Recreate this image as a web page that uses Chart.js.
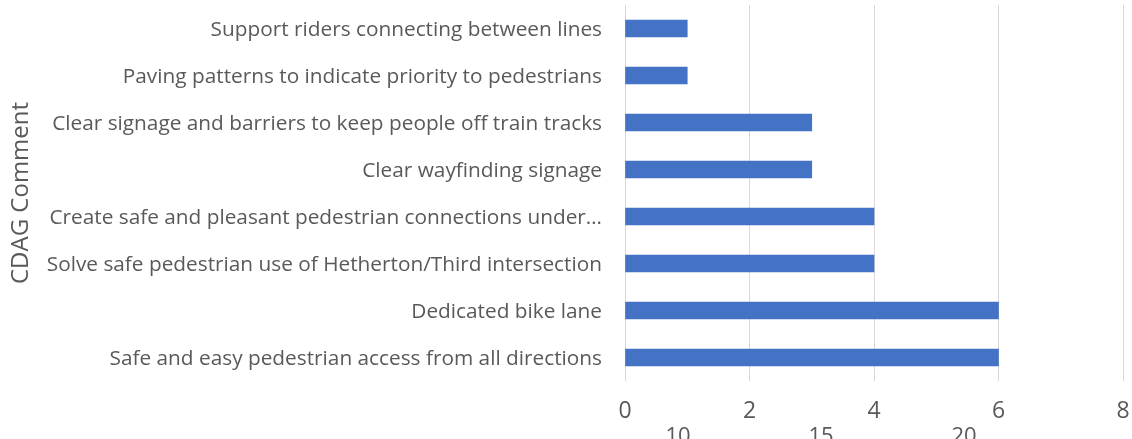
<!DOCTYPE html>
<html>
<head>
<meta charset="utf-8">
<script src="https://cdn.jsdelivr.net/npm/chart.js@4"></script>
<style>
    html, body { margin: 0; padding: 0; background: #fff; overflow: hidden; }
    #wrap { width: 1132px; height: 451px; position: relative; }
</style>
</head>
<body>
<div id="wrap"><canvas id="chart"></canvas></div>
<script>
const comments = [
    "Support riders connecting between lines",
    "Paving patterns to indicate priority to pedestrians",
    "Clear signage and barriers to keep people off train tracks",
    "Clear wayfinding signage",
    "Create safe and pleasant pedestrian connections under\u2026",
    "Solve safe pedestrian use of Hetherton/Third intersection",
    "Dedicated bike lane",
    "Safe and easy pedestrian access from all directions"
];
const counts = [1, 1, 3, 3, 4, 4, 6, 6];
const countTicks = [0, 2, 4, 6, 8];
// stray labels from an axis behind, cut off at the bottom edge
const strayTicks = [10, 15, 20];

const textColor = "#595959";
const fontName = "'Open Sans', 'Noto Sans', sans-serif";

// fixed sizes so the plot area lands where it does in the picture
function noPad(scale) {
    scale.paddingTop = 0;
    scale.paddingBottom = 0;
    scale.paddingLeft = 0;
    scale.paddingRight = 0;
}

new Chart(
    document.getElementById("chart"),
    {
        type: "bar",
        data: {
            labels: comments,
            datasets: [
                {
                    label: "Count",
                    data: counts,
                    backgroundColor: "#4472C4",
                    barThickness: 17
                }
            ]
        },
        options: {
            indexAxis: "y",
            responsive: true,
            maintainAspectRatio: false,
            animation: false,
            layout: {
                padding: { top: 5, right: 9, bottom: 0, left: 0 }
            },
            plugins: {
                legend: { display: false },
                tooltip: { enabled: false }
            },
            scales: {
                y: {
                    grid: { display: false, drawTicks: false },
                    border: { display: false },
                    ticks: {
                        color: textColor,
                        padding: 23,
                        labelOffset: 2,
                        font: { family: fontName, size: 20.8 }
                    },
                    title: {
                        display: true,
                        text: "CDAG Comment",
                        color: textColor,
                        padding: { top: 7, bottom: 0 },
                        font: { family: fontName, size: 24 }
                    },
                    afterFit: scale => { scale.width = 625; noPad(scale); }
                },
                x: {
                    position: "bottom",
                    min: countTicks[0],
                    max: countTicks[countTicks.length - 1],
                    grid: { color: "#d9d9d9", drawTicks: false },
                    border: { display: false },
                    afterBuildTicks: scale => {
                        scale.ticks = countTicks.map(v => ({ value: v }));
                    },
                    ticks: {
                        color: textColor,
                        padding: 17,
                        maxRotation: 0,
                        font: { family: fontName, size: 23 }
                    },
                    afterFit: scale => { scale.height = 43; noPad(scale); }
                },
                x2: {
                    type: "linear",
                    position: "bottom",
                    min: 8.147,
                    max: 25.56,
                    grid: { display: false, drawTicks: false },
                    border: { display: false },
                    afterBuildTicks: scale => {
                        scale.ticks = strayTicks.map(v => ({ value: v }));
                    },
                    ticks: {
                        color: textColor,
                        padding: 0,
                        autoSkip: false,
                        maxRotation: 0,
                        font: { family: fontName, size: 22 }
                    },
                    afterFit: scale => { scale.height = 27; noPad(scale); }
                }
            }
        }
    }
);
</script>
</body>
</html>
